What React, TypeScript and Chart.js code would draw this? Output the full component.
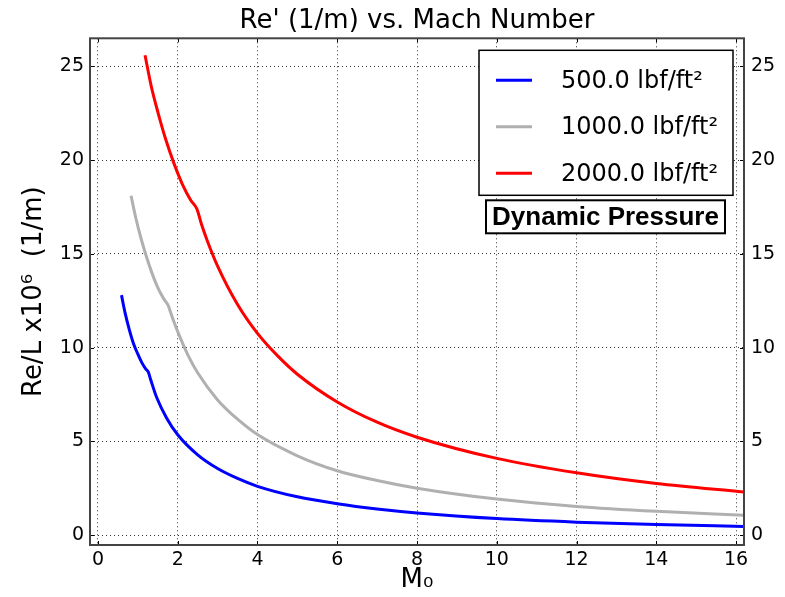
import { useEffect, useRef } from "react";
import { Chart, registerables } from "chart.js";

Chart.register(...registerables);

// ---- data ----
const seriesLabels = ["500.0 lbf/ft\u00B2", "1000.0 lbf/ft\u00B2", "2000.0 lbf/ft\u00B2"];
const seriesColors = ["#0000ff", "#b0b0b0", "#ff0000"];

const machBlue = [0.59, 0.68, 0.78, 0.885, 1.0, 1.1, 1.2, 1.26, 1.32, 1.47, 1.72, 2.0, 2.5, 3.0, 3.5, 4.0, 5.0, 6.0, 7.0, 8.0, 10.0, 12.0, 14.0, 16.2];
const reBlue = [12.8, 11.85, 11.0, 10.25, 9.65, 9.2, 8.85, 8.7, 8.3, 7.35, 6.25, 5.35, 4.28, 3.55, 3.02, 2.6, 2.04, 1.67, 1.39, 1.18, 0.88, 0.69, 0.56, 0.46];

const machGray = [0.83, 0.95, 1.07, 1.2, 1.35, 1.5, 1.65, 1.76, 1.85, 2.0, 2.25, 2.5, 3.0, 3.5, 4.0, 5.0, 6.0, 7.0, 8.0, 10.0, 12.0, 14.0, 16.2];
const reGray = [18.1, 16.9, 15.9, 14.95, 14.0, 13.2, 12.6, 12.25, 11.7, 10.85, 9.63, 8.66, 7.21, 6.18, 5.36, 4.23, 3.43, 2.91, 2.5, 1.92, 1.53, 1.27, 1.06];

const machRed = [1.18, 1.34, 1.51, 1.7, 1.91, 2.12, 2.33, 2.48, 2.6, 2.75, 3.0, 3.5, 4.0, 4.5, 5.0, 6.0, 7.0, 8.0, 10.0, 12.0, 14.0, 16.2];
const reRed = [25.6, 23.9, 22.5, 21.1, 19.8, 18.7, 17.85, 17.4, 16.55, 15.65, 14.35, 12.3, 10.76, 9.57, 8.58, 7.1, 6.02, 5.22, 4.09, 3.32, 2.75, 2.3];

const xTickValues = [0, 2, 4, 6, 8, 10, 12, 14, 16];
const yTickValues = [0, 5, 10, 15, 20, 25];

const titleText = "Re' (1/m) vs. Mach Number";
const xTitle = "M\u2080";
const yTitle = "Re/L x10\u2076  (1/m)";
const boxText = "Dynamic Pressure";

const FONT = "'DejaVu Sans', 'Bitstream Vera Sans', sans-serif";

const decorPlugin = {
  id: "decor",
  afterDatasetsDraw(chart: any) {
    const { ctx, chartArea, scales } = chart;
    const { left, right, top, bottom } = chartArea;
    ctx.save();
    ctx.setLineDash([]);
    // inward tick marks on all four sides
    ctx.strokeStyle = "#000";
    ctx.lineWidth = 1;
    ctx.beginPath();
    for (const v of xTickValues) {
      const x = Math.round(scales.x.getPixelForValue(v)) + 0.5;
      ctx.moveTo(x, bottom);
      ctx.lineTo(x, bottom - 4);
      ctx.moveTo(x, top);
      ctx.lineTo(x, top + 4);
    }
    for (const v of yTickValues) {
      const y = Math.round(scales.y.getPixelForValue(v)) + 0.5;
      ctx.moveTo(left, y);
      ctx.lineTo(left + 4, y);
      ctx.moveTo(right, y);
      ctx.lineTo(right - 4, y);
    }
    ctx.stroke();
    // frame
    ctx.strokeStyle = "#444";
    ctx.lineWidth = 2;
    ctx.strokeRect(left, top, right - left, bottom - top);

    // legend box
    const lx = right - 265;
    const ly = top + 12;
    const lw = 254;
    const lh = 145;
    ctx.fillStyle = "#fff";
    ctx.fillRect(lx, ly, lw, lh);
    ctx.strokeStyle = "#000";
    ctx.lineWidth = 1.5;
    ctx.strokeRect(lx, ly, lw, lh);
    const ds = chart.data.datasets;
    ds.forEach((d: any, i: number) => {
      const yy = ly + 30 + i * 46.5;
      ctx.strokeStyle = d.borderColor;
      ctx.lineWidth = 3;
      ctx.beginPath();
      ctx.moveTo(lx + 17, yy);
      ctx.lineTo(lx + 53, yy);
      ctx.stroke();
      ctx.fillStyle = "#000";
      ctx.font = `24px ${FONT}`;
      ctx.textBaseline = "middle";
      ctx.textAlign = "left";
      ctx.fillText(d.label, lx + 82, yy + 1);
    });

    // "Dynamic Pressure" box
    const bx = lx + 7;
    const by = ly + 150;
    const bw = 239;
    const bh = 33;
    ctx.fillStyle = "#fff";
    ctx.fillRect(bx, by, bw, bh);
    ctx.strokeStyle = "#000";
    ctx.lineWidth = 2;
    ctx.strokeRect(bx, by, bw, bh);
    ctx.fillStyle = "#000";
    ctx.font = `bold 26px 'Liberation Sans', Arial, sans-serif`;
    ctx.textAlign = "center";
    ctx.textBaseline = "middle";
    ctx.fillText(boxText, bx + bw / 2, by + bh / 2 + 1);
    ctx.restore();
  },
};

export default function App() {
  const canvasRef = useRef<HTMLCanvasElement | null>(null);

  useEffect(() => {
    if (!canvasRef.current) return;
    Chart.defaults.color = "#000";
    const mk = (xs: number[], ys: number[], i: number) => ({
      label: seriesLabels[i],
      data: xs.map((x, k) => ({ x, y: ys[k] })),
      showLine: true,
      borderColor: seriesColors[i],
      backgroundColor: seriesColors[i],
      borderWidth: 3,
      pointRadius: 0,
      fill: false,
      cubicInterpolationMode: "monotone" as const,
    });
    const gridCommon = {
      color: "rgba(0,0,0,0.8)",
      lineWidth: 1,
      drawTicks: false,
    };
    const tickFont = { family: FONT, size: 19 };
    const chart = new Chart(canvasRef.current, {
      type: "scatter",
      data: {
        datasets: [mk(machBlue, reBlue, 0), mk(machGray, reGray, 1), mk(machRed, reRed, 2)],
      },
      plugins: [decorPlugin],
      options: {
        animation: false,
        responsive: true,
        maintainAspectRatio: false,
        layout: { padding: 0 },
        plugins: {
          legend: { display: false },
          tooltip: { enabled: false },
          title: {
            display: true,
            text: titleText,
            fullSize: false,
            color: "#000",
            font: { family: FONT, size: 26, weight: "normal" },
            padding: { top: 6, bottom: 1.1 },
          },
        },
        scales: {
          x: {
            type: "linear",
            min: -0.2,
            max: 16.2,
            afterBuildTicks: (s: any) => {
              s.ticks = xTickValues.map((v) => ({ value: v }));
            },
            afterFit: (s: any) => {
              s.height = 52;
            },
            grid: gridCommon,
            border: { display: false, dash: [1, 3] },
            ticks: { font: tickFont, color: "#000", padding: 4 },
            title: {
              display: true,
              text: xTitle,
              color: "#000",
              font: { family: FONT, size: 26 },
              padding: { top: 0, bottom: 1 },
            },
          },
          y: {
            type: "linear",
            position: "left",
            min: -0.53,
            max: 26.5,
            afterBuildTicks: (s: any) => {
              s.ticks = yTickValues.map((v) => ({ value: v }));
            },
            afterFit: (s: any) => {
              s.width = 90;
            },
            grid: gridCommon,
            border: { display: false, dash: [1, 3] },
            ticks: { font: tickFont, color: "#000", padding: 6 },
            title: {
              display: true,
              text: yTitle,
              color: "#000",
              font: { family: FONT, size: 26 },
              padding: { top: 19, bottom: 0 },
            },
          },
          y2: {
            type: "linear",
            position: "right",
            min: -0.53,
            max: 26.5,
            afterBuildTicks: (s: any) => {
              s.ticks = yTickValues.map((v) => ({ value: v }));
            },
            afterFit: (s: any) => {
              s.width = 41;
            },
            grid: { display: false, drawTicks: false },
            border: { display: false },
            ticks: { font: tickFont, color: "#000", padding: 7 },
          },
        },
      },
    });
    return () => chart.destroy();
  }, []);

  return (
    <div style={{ position: "absolute", left: 0, top: 0, width: 785, height: 597, background: "#fff" }}>
      <canvas ref={canvasRef} />
    </div>
  );
}
